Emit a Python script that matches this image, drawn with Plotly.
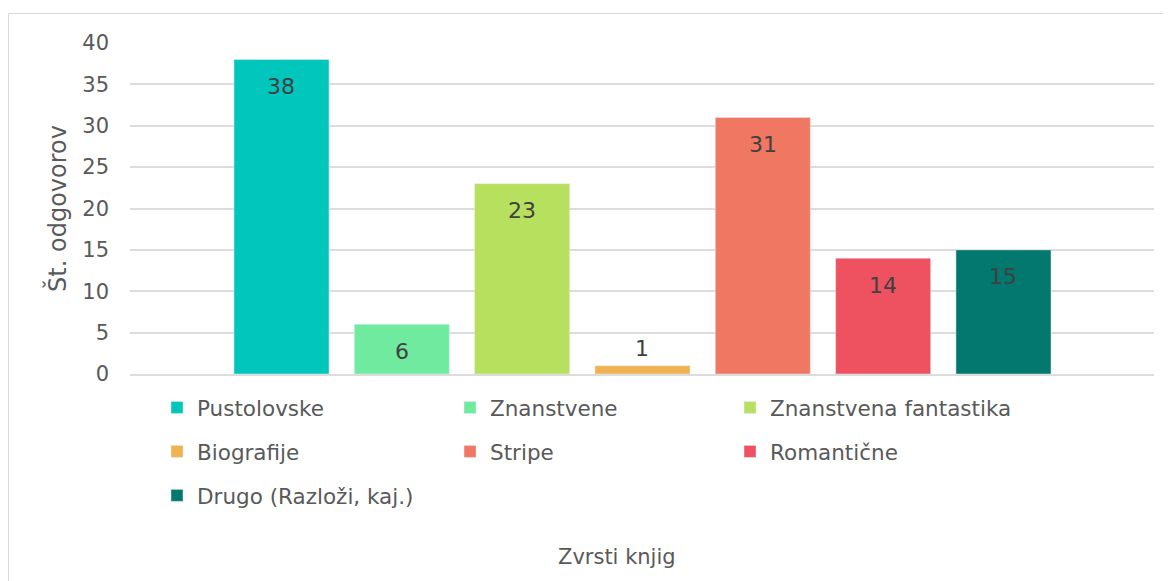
import plotly.graph_objects as go

categories = ["Pustolovske", "Znanstvene", "Znanstvena fantastika", "Biografije",
              "Stripe", "Romantične", "Drugo (Razloži, kaj.)"]
values = [38, 6, 23, 1, 31, 14, 15]
colors = ["#00C6BB", "#6FEA9F", "#B8E05F", "#F0B250", "#F07762", "#EE5160", "#02786F"]
legend_ids = ["legend", "legend2", "legend3", "legend", "legend2", "legend3", "legend"]
y_ticks = [0, 5, 10, 15, 20, 25, 30, 35, 40]

FONT = "Century Gothic, DejaVu Sans, sans-serif"
TXT = "#595959"
GRID = "#DCDCDC"

OFF = 8  # default page body margin
W, H = 1171 - OFF, 581 - OFF
ML, MR, MT, MB = 122, 17, 35, 207
PW, PH = W - ML - MR, H - MT - MB
YMAX = 40

fig = go.Figure()
for c, v, col, lg in zip(categories, values, colors, legend_ids):
    fig.add_trace(go.Bar(
        x=[c], y=[v], name=c, marker_color=col, width=0.79,
        legend=lg, legendgroup=c, hoverinfo="x+y",
    ))

annotations = []
for c, v in zip(categories, values):
    inside = v * PH / YMAX > 30
    annotations.append(dict(
        x=c, y=v, xref="x", yref="y", text=str(v), showarrow=False,
        yanchor="middle", yshift=-27 if inside else 17,
        font=dict(family=FONT, size=22, color="#404040"),
    ))

def px_x(p):
    return (p - OFF - ML) / PW

def px_y(p):
    return (H - MB - (p - OFF)) / PH

annotations.append(dict(
    x=px_x(617), y=px_y(557), xref="paper", yref="paper", text="Zvrsti knjig",
    showarrow=False, xanchor="center", yanchor="middle",
    font=dict(family=FONT, size=21, color=TXT),
))

legend_common = dict(
    orientation="v", xanchor="left", yanchor="top", y=px_y(387),
    font=dict(family=FONT, size=21.5, color=TXT), bgcolor="rgba(0,0,0,0)",
    traceorder="grouped", tracegroupgap=13,
)

fig.update_layout(
    width=W, height=H,
    margin=dict(l=ML, r=MR, t=MT, b=MB),
    paper_bgcolor="white", plot_bgcolor="white",
    barmode="overlay",
    font=dict(family=FONT, color=TXT),
    showlegend=True,
    legend=dict(x=px_x(157), **legend_common),
    legend2=dict(x=px_x(450), **legend_common),
    legend3=dict(x=px_x(730), **legend_common),
    xaxis=dict(
        type="category", categoryorder="array", categoryarray=categories,
        range=[-1.259, 7.251], showticklabels=False, showgrid=False,
        showline=True, linecolor=GRID, linewidth=2, ticks="", fixedrange=True,
    ),
    yaxis=dict(
        range=[0, YMAX], tickvals=y_ticks, showgrid=True, gridcolor=GRID, gridwidth=2,
        zeroline=False, showline=False, ticks="", ticklabelstandoff=20,
        tickfont=dict(family=FONT, size=21, color=TXT),
        title=dict(text="Št. odgovorov", font=dict(family=FONT, size=24, color=TXT), standoff=8),
        fixedrange=True,
    ),
    annotations=annotations,
    shapes=[dict(
        type="rect", xref="paper", yref="paper",
        x0=px_x(8.5), x1=px_x(1190), y0=px_y(600), y1=px_y(13.5),
        line=dict(color="#D9D9D9", width=1), fillcolor="rgba(0,0,0,0)", layer="below",
    )],
)

fig.write_html("out.html")
